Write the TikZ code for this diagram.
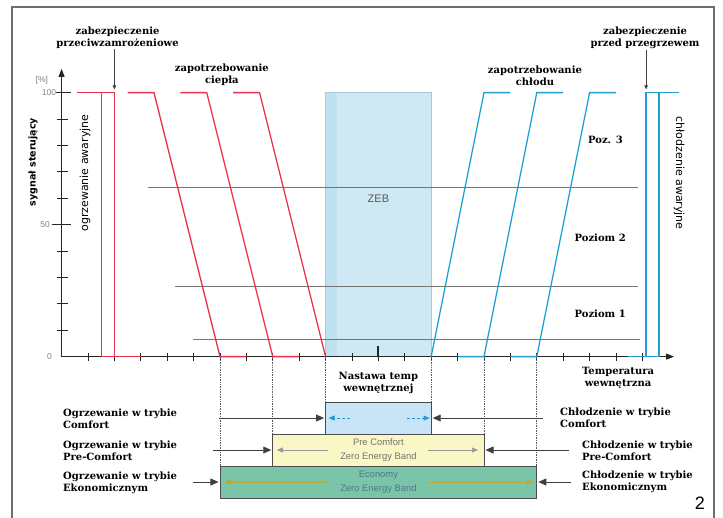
\documentclass[tikz,border=0pt]{standalone}
\usepackage{fontspec}
\setmainfont{DejaVu Serif}
\newfontfamily\sansfont{DejaVu Sans}
\newfontfamily\bandfont{Liberation Sans}
\usepackage{tikz}
\usetikzlibrary{arrows.meta, positioning, calc}

\definecolor{heatred}{RGB}{232,50,74}
\definecolor{coolblue}{RGB}{32,158,210}
\definecolor{zebfill}{RGB}{206,233,243}
\definecolor{zebstrip}{RGB}{192,225,240}
\definecolor{zebedge}{RGB}{172,200,212}
\definecolor{comfortfill}{RGB}{200,228,246}
\definecolor{prefill}{RGB}{250,247,198}
\definecolor{ecofill}{RGB}{122,196,168}
\definecolor{ecotext}{RGB}{80,120,140}
\definecolor{ecoarrow}{RGB}{185,168,50}
\definecolor{framegray}{RGB}{110,110,110}

\begin{document}
\begin{tikzpicture}[x=26.4pt, y=26.4pt,
  heat/.style={line width=1.3pt, heatred},
  cool/.style={line width=1.3pt, coolblue},
  levelline/.style={line width=0.8pt, black!55},
  axisline/.style={line width=0.9pt, black!85},
  guide/.style={densely dotted, line width=0.7pt, black!65},
  pointer/.style={line width=0.6pt, black!75, -{Triangle[length=4pt, width=3.5pt]}},
  modearrow/.style={line width=0.7pt, black!75, -{Triangle[length=8pt, width=7pt]}, shorten >=1.5pt},
  boldtag/.style={font=\bfseries\fontsize{10}{12}\selectfont, align=center, inner sep=1pt},
  modetag/.style={boldtag, align=left, anchor=west, inner sep=0pt},
  sidetag/.style={font=\sansfont\fontsize{11}{13}\selectfont, inner sep=0pt},
  numtag/.style={font=\bandfont\fontsize{8.5}{10}\selectfont, black!50, anchor=east, inner sep=0pt},
  modebox/.style={draw=black!70, line width=0.8pt, inner sep=0pt, outer sep=0pt, minimum height=32pt,
    font=\bandfont\fontsize{9.4}{14}\selectfont, align=center},
  bandarrow/.style={line width=0.6pt, -{Triangle[length=6pt, width=5pt]}},
]
	% page and frame
	\useasboundingbox (-2.333,13.508) rectangle (25.053,-6.076);
	\clip (-2.333,13.508) rectangle (25.053,-6.076);
	\draw[framegray, line width=1.2pt] (-1.879,13.242) rectangle (24.71,-7);

	% Zero Energy Band
	\fill[zebfill] (10,0) rectangle (14,10);
	\fill[zebstrip] (10,0) rectangle (10.45,10);
	\draw[zebedge, line width=0.8pt] (10,0) rectangle (14,10);
	\node[font=\bandfont\fontsize{11}{13}\selectfont, black!65] (zeb) at (12,6.0) {ZEB};

	% levels
	\draw[levelline] (3.27,6.42) -- (21.83,6.42);
	\draw[levelline] (4.3,2.65) -- (21.83,2.65);
	\draw[levelline] (4.98,0.67) -- (21.9,0.67);
	\node[boldtag] (poz3) at (20.6,8.2) {Poz. 3};
	\node[boldtag] (poz2) at (20.4,4.49) {Poziom 2};
	\node[boldtag] (poz1) at (20.4,1.61) {Poziom 1};

	% axes
	\coordinate (O) at (0,0);
	\draw[axisline, -{Triangle[length=8pt, width=6pt]}] (O) -- (0,10.9);
	\draw[axisline, -{Triangle[length=8pt, width=6pt]}] (O) -- (23.2,0);
	\foreach \k in {1,...,22} \draw[axisline] (\k,-0.15) -- (\k,0.15);
	\draw[line width=1.8pt, black!85] (12,0) -- (12,0.42);
	\foreach \k in {1,2,3,4,6,7,8,9} \draw[axisline] (-0.18,\k) -- (0.24,\k);
	\draw[axisline] (-0.36,5) -- (0.36,5);
	\draw[axisline] (-0.2,10) -- (0.36,10);
	\node[numtag] (y0) at (-0.36,0) {0};
	\node[numtag] (y50) at (-0.44,5) {50};
	\node[numtag] (y100) at (-0.2,10) {100};
	\node[numtag, anchor=center] (unit) at (-0.75,10.48) {[\%]};
	\node[sidetag, font=\sansfont\bfseries\fontsize{9.5}{11}\selectfont, rotate=90] (signal) at (-1.08,7.37) {sygnał sterujący};

	% heating
	\draw[heat] (0.6,10) -- (2,10) -- (2,0);
	\draw[heat] (1.5,10) -- (1.5,0) -- (3,0);
	\draw[heat] (2.5,10) -- (3.5,10) -- (6,0) -- (7,0);
	\draw[heat] (4.5,10) -- (5.5,10) -- (8,0) -- (9,0);
	\draw[heat] (6.5,10) -- (7.5,10) -- (10,0);
	\node[sidetag, rotate=90] (emheat) at (0.89,6.95) {ogrzewanie awaryjne};

	% cooling
	\draw[cool] (14,0) -- (16,10) -- (17,10);
	\draw[cool] (15,0) -- (16,0) -- (18,10) -- (19,10);
	\draw[cool] (17,0) -- (18,0) -- (20,10) -- (21,10);
	\draw[cool] (21.45,0) -- (22.63,0) -- (22.63,10);
	\draw[cool] (22.14,0) -- (22.14,10) -- (23.4,10);
	\node[sidetag, rotate=-90] (emcool) at (23.39,6.95) {chłodzenie awaryjne};

	% top labels
	\node[boldtag] (frost) at (2.12,12.09) {zabezpieczenie\\przeciwzamrożeniowe};
	\node[boldtag] (overheat) at (22.1,12.09) {zabezpieczenie\\przed przegrzewem};
	\node[boldtag] (heatneed) at (6.07,10.66) {zapotrzebowanie\\ciepła};
	\node[boldtag] (coolneed) at (17.93,10.65) {zapotrzebowanie\\chłodu};
	\coordinate (frostpt) at (2,10.12);
	\coordinate (overpt) at (22.14,10.12);
	\draw[pointer] (frost.south -| frostpt) -- (frostpt);
	\draw[pointer] (overheat.south -| overpt) -- (overpt);

	% mode bands
	\node[modebox, fill=comfortfill, minimum width=105.6pt] (comfort) at (12,-2.326) {};
	\node[modebox, fill=prefill, minimum width=211.2pt, below=0pt of comfort, text=black!55] (pre) {Pre Comfort\\Zero Energy Band};
	\node[modebox, fill=ecofill, minimum width=316.8pt, below=0pt of pre, text=ecotext] (eco) {Economy\\Zero Energy Band};
	\node[boldtag, above=7pt of comfort] (setpoint) {Nastawa temp\\wewnętrznej};
	\node[boldtag] (tempin) at (21.08,-0.79) {Temperatura\\wewnętrzna};

	\draw[bandarrow, densely dashed, coolblue, shorten <=28pt, shorten >=3pt] (comfort.center) -- (comfort.west);
	\draw[bandarrow, densely dashed, coolblue, shorten <=29pt, shorten >=1.5pt] (comfort.center) -- (comfort.east);
	\draw[bandarrow, black!40, shorten <=50pt, shorten >=4pt] (pre.center) -- (pre.west);
	\draw[bandarrow, black!40, shorten <=50pt, shorten >=6pt] (pre.center) -- (pre.east);
	\draw[bandarrow, ecoarrow, shorten <=50pt, shorten >=5pt] (eco.center) -- (eco.west);
	\draw[bandarrow, ecoarrow, shorten <=50pt, shorten >=4pt] (eco.center) -- (eco.east);

	% guides down from the axis
	\draw[guide] (eco.north west |- O) -- (eco.north west);
	\draw[guide] (pre.north west |- O) -- (pre.north west);
	\draw[guide] (comfort.north west |- O) -- (comfort.north west);
	\draw[guide] (comfort.north east |- O) -- (comfort.north east);
	\draw[guide] (pre.north east |- O) -- (pre.north east);
	\draw[guide] (eco.north east |- O) -- (eco.north east);

	% modes
	\node[modetag] (hcomf) at (0.05,-2.36) {Ogrzewanie w trybie\\Comfort};
	\node[modetag] (hpre) at (0.05,-3.58) {Ogrzewanie w trybie\\Pre-Comfort};
	\node[modetag] (heco) at (0.05,-4.79) {Ogrzewanie w trybie\\Ekonomicznym};
	\node[modetag] (ccomf) at (18.88,-2.33) {Chłodzenie w trybie\\Comfort};
	\node[modetag] (cpre) at (19.71,-3.58) {Chłodzenie w trybie\\Pre-Comfort};
	\node[modetag] (ceco) at (19.71,-4.75) {Chłodzenie w trybie\\Ekonomicznym};
	\coordinate (hcs) at ([xshift=-107pt]comfort.west);
	\coordinate (hps) at ([xshift=-60pt]pre.west);
	\coordinate (hes) at ([xshift=-27pt]eco.west);
	\coordinate (ccs) at ([xshift=112pt]comfort.east);
	\coordinate (cps) at ([xshift=85pt]pre.east);
	\coordinate (ces) at ([xshift=34pt]eco.east);
	\draw[modearrow] (hcs) -- (comfort.west);
	\draw[modearrow] (hps) -- (pre.west);
	\draw[modearrow] (hes) -- (eco.west);
	\draw[modearrow] (ccs) -- (comfort.east);
	\draw[modearrow] (cps) -- (pre.east);
	\draw[modearrow] (ces) -- (eco.east);

	\node[font=\bandfont\fontsize{18}{20}\selectfont] (fignum) at (24.18,-5.55) {2};
\end{tikzpicture}
\end{document}
